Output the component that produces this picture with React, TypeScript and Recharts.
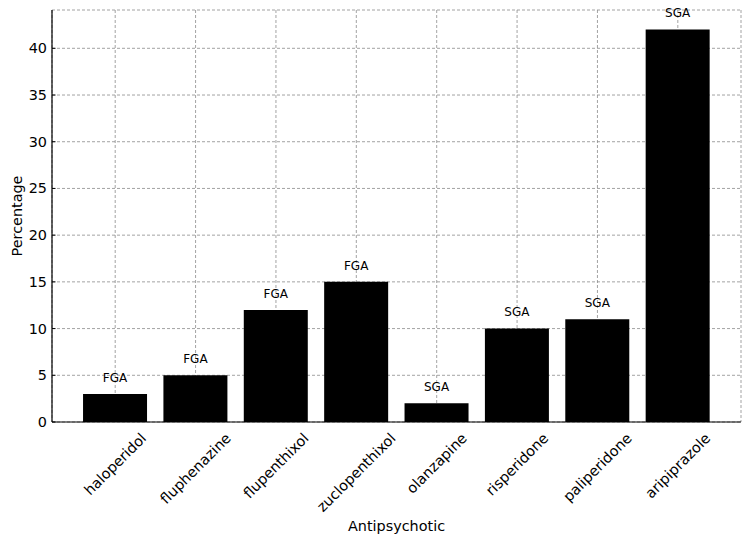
import React from 'react';
import { BarChart, Bar, XAxis, YAxis, CartesianGrid, LabelList, Label } from 'recharts';

const drugs = [
  'haloperidol',
  'fluphenazine',
  'flupenthixol',
  'zuclopenthixol',
  'olanzapine',
  'risperidone',
  'paliperidone',
  'aripiprazole',
];
const percentages = [3, 5, 12, 15, 2, 10, 11, 42];
const classes = ['FGA', 'FGA', 'FGA', 'FGA', 'SGA', 'SGA', 'SGA', 'SGA'];
const yTicks = [0, 5, 10, 15, 20, 25, 30, 35, 40];

const FONT = 'DejaVu Sans, sans-serif';
const TICK_SIZE = 14.4;

const chartData = drugs.map((name, i) => ({
  name,
  value: percentages[i],
  type: classes[i],
}));

let measureCtx: CanvasRenderingContext2D | null = null;
const textWidth = (s: string, size: number) => {
  if (!measureCtx) {
    measureCtx = document.createElement('canvas').getContext('2d');
  }
  if (!measureCtx) return s.length * size * 0.6;
  measureCtx.font = `${size}px "DejaVu Sans"`;
  return measureCtx.measureText(s).width;
};

// rotated label, bounding box centred on the tick like matplotlib's ha='center'
const XTick = (props: any) => {
  const { x, payload } = props;
  const label = String(payload.value);
  const L = textWidth(label, TICK_SIZE);
  const H = (L + TICK_SIZE * 1.1) * Math.SQRT1_2;
  const top = 430;
  const cy = top + H / 2;
  return (
    <text
      x={x}
      y={cy}
      transform={`rotate(-45, ${x}, ${cy})`}
      textAnchor="middle"
      dominantBaseline="central"
      fontSize={TICK_SIZE}
      fontFamily={FONT}
      fill="#000"
    >
      {label}
    </text>
  );
};

const YTick = (props: any) => {
  const { x, y, payload } = props;
  return (
    <g>
      <line x1={x + 5} y1={y} x2={x + 8.5} y2={y} stroke="#000" strokeWidth={1} />
      <text
        x={x}
        y={y}
        textAnchor="end"
        dominantBaseline="central"
        fontSize={TICK_SIZE}
        fontFamily={FONT}
        fill="#000"
      >
        {payload.value}
      </text>
    </g>
  );
};

const ClassLabel = (props: any) => {
  const { x, y, width, height, value, index } = props;
  const unit = height / percentages[index];
  return (
    <text
      x={x + width / 2}
      y={y - unit - 2.8}
      textAnchor="middle"
      fontSize={12}
      fontFamily={FONT}
      fill="#000"
    >
      {value}
    </text>
  );
};

export default function App() {
  return (
    <div style={{ position: 'absolute', left: 0, top: 0, background: '#fff' }}>
      <BarChart
        width={750}
        height={541}
        data={chartData}
        margin={{ top: 10, right: 9, bottom: 0, left: 0 }}
        barCategoryGap="10%"
      >
        <XAxis
          dataKey="name"
          height={119}
          padding={{ left: 23, right: 23 }}
          tick={<XTick />}
          tickLine={false}
          interval={0}
          axisLine={{ stroke: '#000', strokeWidth: 1.2 }}
        >
          <Label
            value="Antipsychotic"
            position="insideBottom"
            offset={10}
            style={{ fontSize: TICK_SIZE, fontFamily: FONT, fill: '#000' }}
          />
        </XAxis>
        <YAxis
          width={52}
          domain={[0, 44.1]}
          ticks={yTicks}
          tickSize={0}
          tickMargin={5}
          tick={<YTick />}
          tickLine={false}
          axisLine={{ stroke: '#000', strokeWidth: 1.2 }}
        >
          <Label
            value="Percentage"
            angle={-90}
            position="insideLeft"
            offset={17}
            style={{ fontSize: TICK_SIZE, fontFamily: FONT, fill: '#000', textAnchor: 'middle' }}
          />
        </YAxis>
        <Bar dataKey="value" fill="#000" isAnimationActive={false}>
          <LabelList dataKey="type" content={<ClassLabel />} />
        </Bar>
        <CartesianGrid stroke="#8c8c8c" strokeWidth={0.8} strokeDasharray="3 2" />
      </BarChart>
    </div>
  );
}
